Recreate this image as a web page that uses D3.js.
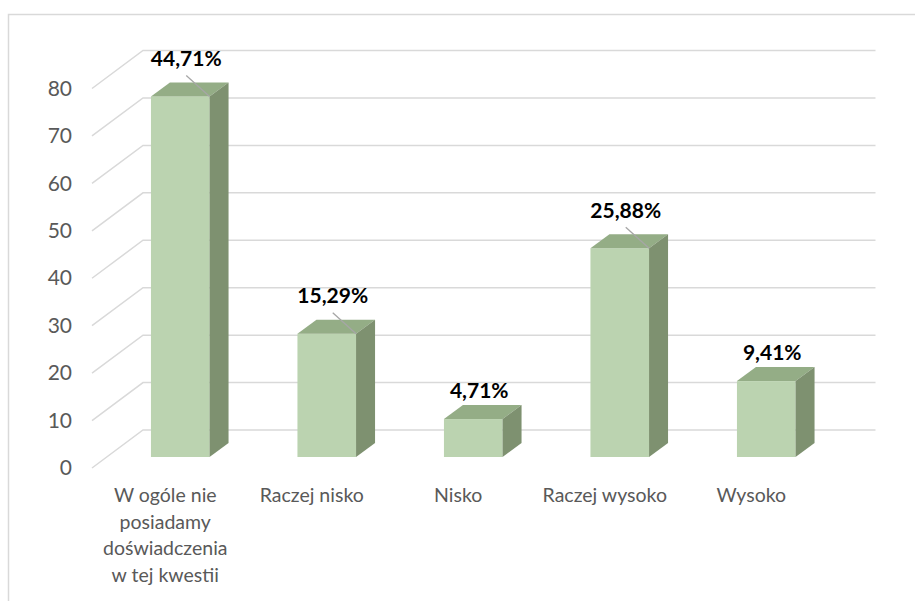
<!DOCTYPE html>
<html>
<head>
<meta charset="utf-8">
<script src="https://cdn.jsdelivr.net/npm/d3@7/dist/d3.min.js"></script>
<style>
  html, body { margin: 0; padding: 0; background: #fff; }
  svg { display: block; }
</style>
</head>
<body>
<svg id="chart" width="915" height="601"></svg>
<script>
// ---- data ----
const categories = [
  "W ogóle nie posiadamy doświadczenia w tej kwestii",
  "Raczej nisko",
  "Nisko",
  "Raczej wysoko",
  "Wysoko"
];
const values = [76, 26, 8, 44, 16];
const yTicks = [0, 10, 20, 30, 40, 50, 60, 70, 80];

// ---- layout ----
const svg = d3.select("#chart");
const fontFamily = "Lato, 'Noto Sans', sans-serif";

const x = d3.scaleBand().domain(categories).range([92, 824.5])
  .paddingInner(0.6).paddingOuter(0.3);
const y = d3.scaleLinear().domain([0, 80]).range([468, 88.5]);

// oblique depth offsets
const wall = { dx: 51, dy: -38 };
const barFront = { dx: 15, dy: -11 };
const barDepth = { dx: 19, dy: -14 };

// outer border
svg.append("rect")
  .attr("x", 8.5).attr("y", 14.5)
  .attr("width", 940).attr("height", 640)
  .attr("fill", "none").attr("stroke", "#d9d9d9").attr("stroke-width", 1.5);

// gridlines: diagonal + back wall
const grid = svg.append("g");
const x0 = x.range()[0], x1 = x.range()[1];
yTicks.forEach(t => {
  const yf = y(t);
  grid.append("path")
    .attr("d", `M${x0},${yf}L${x0 + wall.dx},${yf + wall.dy}L${x1 + wall.dx},${yf + wall.dy}`)
    .attr("fill", "none")
    .attr("stroke", "#d9d9d9")
    .attr("stroke-width", 1.5);
});

// y axis labels
const yAxis = d3.axisLeft(y).tickValues(yTicks).tickSize(0).tickPadding(20);
const ga = svg.append("g").attr("transform", `translate(${x0},0)`).call(yAxis);
ga.select(".domain").remove();
ga.selectAll("text")
  .attr("font-family", fontFamily)
  .attr("font-size", 21)
  .attr("fill", "#595959");

// bars
const colFront = "#bbd3b0", colTop = "#94ad86", colSide = "#7e9170";
const bars = svg.append("g");
const total = d3.sum(values);

categories.forEach((c, i) => {
  const v = values[i];
  const xl = x(c) + barFront.dx;
  const xr = xl + x.bandwidth();
  const yb = y(0) + barFront.dy;
  const yt = y(v) + barFront.dy;
  const ddx = barDepth.dx, ddy = barDepth.dy;
  bars.append("rect")
    .attr("x", xl).attr("y", yt)
    .attr("width", xr - xl).attr("height", yb - yt)
    .attr("fill", colFront);
  bars.append("path")
    .attr("d", `M${xl},${yt}L${xl + ddx},${yt + ddy}L${xr + ddx},${yt + ddy}L${xr},${yt}Z`)
    .attr("fill", colTop);
  bars.append("path")
    .attr("d", `M${xr},${yt}L${xr + ddx},${yt + ddy}L${xr + ddx},${yb + ddy}L${xr},${yb}Z`)
    .attr("fill", colSide);

  const pct = (v / total * 100).toFixed(2).replace(".", ",") + "%";
  const leader = v / total > 0.1;
  const lx = (xl + xr) / 2 + 6;
  const ly = yt - (leader ? 38 : 29);
  if (leader) {
    bars.append("line")
      .attr("x1", lx).attr("y1", ly + 17)
      .attr("x2", xr).attr("y2", yt)
      .attr("stroke", "#a6a6a6").attr("stroke-width", 1.3);
  }
  bars.append("text")
    .attr("x", lx).attr("y", ly + 7.5)
    .attr("text-anchor", "middle")
    .attr("font-family", fontFamily)
    .attr("font-weight", "bold")
    .attr("font-size", 21)
    .attr("fill", "#000")
    .text(pct);
});

// category labels (wrapped)
const catG = svg.append("g");
const maxW = 138;
categories.forEach(c => {
  const t = catG.append("text")
    .attr("text-anchor", "middle")
    .attr("font-family", fontFamily)
    .attr("font-size", 19.5)
    .attr("fill", "#595959");
  const cx = x(c) + x.bandwidth() / 2;
  const words = c.split(" ");
  let lines = [], cur = [];
  const probe = t.append("tspan");
  words.forEach(w => {
    const test = cur.concat([w]).join(" ");
    probe.text(test);
    if (probe.node().getComputedTextLength() > maxW && cur.length) {
      lines.push(cur.join(" "));
      cur = [w];
    } else cur.push(w);
  });
  lines.push(cur.join(" "));
  probe.remove();
  lines.forEach((ln, k) => {
    t.append("tspan").attr("x", cx).attr("y", 502 + k * 26.7).text(ln);
  });
});
</script>
</body>
</html>
